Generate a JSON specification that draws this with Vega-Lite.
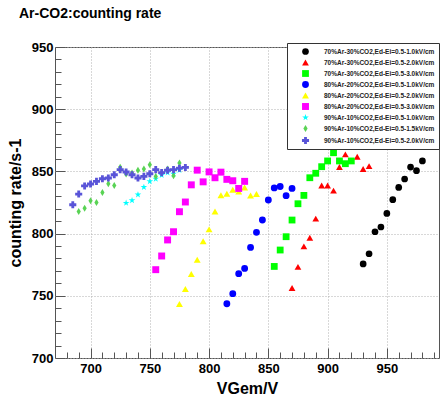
{
  "$schema": "https://vega.github.io/schema/vega-lite/v6.json",
  "width": 384,
  "height": 311,
  "autosize": {"type": "none"},
  "padding": {"left": 55, "top": 47, "right": 3, "bottom": 39},
  "background": "white",
  "title": {
    "text": "Ar-CO2:counting rate",
    "anchor": "start",
    "frame": "group",
    "dx": -36,
    "offset": 20,
    "font": "Liberation Sans",
    "fontSize": 14,
    "fontWeight": "bold",
    "color": "black"
  },
  "config": {
    "view": {"stroke": "#555555", "strokeWidth": 1},
    "axis": {
      "domain": false,
      "labelFont": "Liberation Sans",
      "labelFontWeight": "bold",
      "labelFontSize": 13,
      "labelColor": "black",
      "titleFont": "Liberation Sans",
      "titleFontWeight": "bold",
      "titleColor": "black",
      "tickColor": "#555555",
      "gridColor": "#b0b0b0",
      "gridDash": [1, 2],
      "labelOverlap": false
    }
  },
  "data": {
    "values": [
      {"s": "70%Ar-30%CO2,Ed-Ei=0.5-1.0kV/cm", "x": 930, "y": 775.6},
      {"s": "70%Ar-30%CO2,Ed-Ei=0.5-1.0kV/cm", "x": 935, "y": 783.8},
      {"s": "70%Ar-30%CO2,Ed-Ei=0.5-1.0kV/cm", "x": 940, "y": 801.5},
      {"s": "70%Ar-30%CO2,Ed-Ei=0.5-1.0kV/cm", "x": 945, "y": 805.3},
      {"s": "70%Ar-30%CO2,Ed-Ei=0.5-1.0kV/cm", "x": 950, "y": 816.2},
      {"s": "70%Ar-30%CO2,Ed-Ei=0.5-1.0kV/cm", "x": 955, "y": 827.3},
      {"s": "70%Ar-30%CO2,Ed-Ei=0.5-1.0kV/cm", "x": 960, "y": 837.1},
      {"s": "70%Ar-30%CO2,Ed-Ei=0.5-1.0kV/cm", "x": 965, "y": 843.9},
      {"s": "70%Ar-30%CO2,Ed-Ei=0.5-1.0kV/cm", "x": 970, "y": 853.5},
      {"s": "70%Ar-30%CO2,Ed-Ei=0.5-1.0kV/cm", "x": 975, "y": 850.6},
      {"s": "70%Ar-30%CO2,Ed-Ei=0.5-1.0kV/cm", "x": 980, "y": 858.4},

      {"s": "70%Ar-30%CO2,Ed-Ei=0.5-2.0kV/cm", "x": 870, "y": 756.3},
      {"s": "70%Ar-30%CO2,Ed-Ei=0.5-2.0kV/cm", "x": 875, "y": 773.2},
      {"s": "70%Ar-30%CO2,Ed-Ei=0.5-2.0kV/cm", "x": 880, "y": 789.7},
      {"s": "70%Ar-30%CO2,Ed-Ei=0.5-2.0kV/cm", "x": 885, "y": 796.7},
      {"s": "70%Ar-30%CO2,Ed-Ei=0.5-2.0kV/cm", "x": 890, "y": 812.0},
      {"s": "70%Ar-30%CO2,Ed-Ei=0.5-2.0kV/cm", "x": 895, "y": 838.7},
      {"s": "70%Ar-30%CO2,Ed-Ei=0.5-2.0kV/cm", "x": 900, "y": 838.7},
      {"s": "70%Ar-30%CO2,Ed-Ei=0.5-2.0kV/cm", "x": 905, "y": 834.5},
      {"s": "70%Ar-30%CO2,Ed-Ei=0.5-2.0kV/cm", "x": 910, "y": 853.5},
      {"s": "70%Ar-30%CO2,Ed-Ei=0.5-2.0kV/cm", "x": 915, "y": 863.7},
      {"s": "70%Ar-30%CO2,Ed-Ei=0.5-2.0kV/cm", "x": 925, "y": 861.8},
      {"s": "70%Ar-30%CO2,Ed-Ei=0.5-2.0kV/cm", "x": 930, "y": 851.9},
      {"s": "70%Ar-30%CO2,Ed-Ei=0.5-2.0kV/cm", "x": 935, "y": 854.3},

      {"s": "70%Ar-30%CO2,Ed-Ei=0.5-3.0kV/cm", "x": 855, "y": 773.6},
      {"s": "70%Ar-30%CO2,Ed-Ei=0.5-3.0kV/cm", "x": 860, "y": 786.8},
      {"s": "70%Ar-30%CO2,Ed-Ei=0.5-3.0kV/cm", "x": 865, "y": 797.5},
      {"s": "70%Ar-30%CO2,Ed-Ei=0.5-3.0kV/cm", "x": 870, "y": 810.9},
      {"s": "70%Ar-30%CO2,Ed-Ei=0.5-3.0kV/cm", "x": 875, "y": 824.0},
      {"s": "70%Ar-30%CO2,Ed-Ei=0.5-3.0kV/cm", "x": 880, "y": 830.7},
      {"s": "70%Ar-30%CO2,Ed-Ei=0.5-3.0kV/cm", "x": 885, "y": 844.9},
      {"s": "70%Ar-30%CO2,Ed-Ei=0.5-3.0kV/cm", "x": 890, "y": 848.5},
      {"s": "70%Ar-30%CO2,Ed-Ei=0.5-3.0kV/cm", "x": 895, "y": 853.8},
      {"s": "70%Ar-30%CO2,Ed-Ei=0.5-3.0kV/cm", "x": 900, "y": 858.4},
      {"s": "70%Ar-30%CO2,Ed-Ei=0.5-3.0kV/cm", "x": 905, "y": 865.0},
      {"s": "70%Ar-30%CO2,Ed-Ei=0.5-3.0kV/cm", "x": 910, "y": 858.4},
      {"s": "70%Ar-30%CO2,Ed-Ei=0.5-3.0kV/cm", "x": 915, "y": 856.2},
      {"s": "70%Ar-30%CO2,Ed-Ei=0.5-3.0kV/cm", "x": 920, "y": 858.4},

      {"s": "80%Ar-20%CO2,Ed-Ei=0.5-1.0kV/cm", "x": 815, "y": 743.6},
      {"s": "80%Ar-20%CO2,Ed-Ei=0.5-1.0kV/cm", "x": 820, "y": 751.7},
      {"s": "80%Ar-20%CO2,Ed-Ei=0.5-1.0kV/cm", "x": 825, "y": 767.8},
      {"s": "80%Ar-20%CO2,Ed-Ei=0.5-1.0kV/cm", "x": 830, "y": 772.0},
      {"s": "80%Ar-20%CO2,Ed-Ei=0.5-1.0kV/cm", "x": 835, "y": 788.9},
      {"s": "80%Ar-20%CO2,Ed-Ei=0.5-1.0kV/cm", "x": 840, "y": 801.0},
      {"s": "80%Ar-20%CO2,Ed-Ei=0.5-1.0kV/cm", "x": 845, "y": 810.9},
      {"s": "80%Ar-20%CO2,Ed-Ei=0.5-1.0kV/cm", "x": 850, "y": 827.0},
      {"s": "80%Ar-20%CO2,Ed-Ei=0.5-1.0kV/cm", "x": 855, "y": 836.7},
      {"s": "80%Ar-20%CO2,Ed-Ei=0.5-1.0kV/cm", "x": 860, "y": 837.9},
      {"s": "80%Ar-20%CO2,Ed-Ei=0.5-1.0kV/cm", "x": 865, "y": 830.5},
      {"s": "80%Ar-20%CO2,Ed-Ei=0.5-1.0kV/cm", "x": 870, "y": 836.3},

      {"s": "80%Ar-20%CO2,Ed-Ei=0.5-2.0kV/cm", "x": 775, "y": 743.4},
      {"s": "80%Ar-20%CO2,Ed-Ei=0.5-2.0kV/cm", "x": 780, "y": 755.5},
      {"s": "80%Ar-20%CO2,Ed-Ei=0.5-2.0kV/cm", "x": 785, "y": 767.5},
      {"s": "80%Ar-20%CO2,Ed-Ei=0.5-2.0kV/cm", "x": 790, "y": 779.0},
      {"s": "80%Ar-20%CO2,Ed-Ei=0.5-2.0kV/cm", "x": 795, "y": 793.9},
      {"s": "80%Ar-20%CO2,Ed-Ei=0.5-2.0kV/cm", "x": 800, "y": 803.4},
      {"s": "80%Ar-20%CO2,Ed-Ei=0.5-2.0kV/cm", "x": 805, "y": 817.8},
      {"s": "80%Ar-20%CO2,Ed-Ei=0.5-2.0kV/cm", "x": 810, "y": 830.9},
      {"s": "80%Ar-20%CO2,Ed-Ei=0.5-2.0kV/cm", "x": 815, "y": 832.0},
      {"s": "80%Ar-20%CO2,Ed-Ei=0.5-2.0kV/cm", "x": 820, "y": 835.3},
      {"s": "80%Ar-20%CO2,Ed-Ei=0.5-2.0kV/cm", "x": 825, "y": 833.9},
      {"s": "80%Ar-20%CO2,Ed-Ei=0.5-2.0kV/cm", "x": 830, "y": 837.1},
      {"s": "80%Ar-20%CO2,Ed-Ei=0.5-2.0kV/cm", "x": 835, "y": 830.7},
      {"s": "80%Ar-20%CO2,Ed-Ei=0.5-2.0kV/cm", "x": 840, "y": 831.8},

      {"s": "80%Ar-20%CO2,Ed-Ei=0.5-3.0kV/cm", "x": 755, "y": 771.0},
      {"s": "80%Ar-20%CO2,Ed-Ei=0.5-3.0kV/cm", "x": 760, "y": 782.0},
      {"s": "80%Ar-20%CO2,Ed-Ei=0.5-3.0kV/cm", "x": 765, "y": 794.9},
      {"s": "80%Ar-20%CO2,Ed-Ei=0.5-3.0kV/cm", "x": 770, "y": 801.5},
      {"s": "80%Ar-20%CO2,Ed-Ei=0.5-3.0kV/cm", "x": 775, "y": 817.6},
      {"s": "80%Ar-20%CO2,Ed-Ei=0.5-3.0kV/cm", "x": 780, "y": 825.4},
      {"s": "80%Ar-20%CO2,Ed-Ei=0.5-3.0kV/cm", "x": 785, "y": 839.2},
      {"s": "80%Ar-20%CO2,Ed-Ei=0.5-3.0kV/cm", "x": 790, "y": 851.0},
      {"s": "80%Ar-20%CO2,Ed-Ei=0.5-3.0kV/cm", "x": 795, "y": 841.6},
      {"s": "80%Ar-20%CO2,Ed-Ei=0.5-3.0kV/cm", "x": 800, "y": 849.6},
      {"s": "80%Ar-20%CO2,Ed-Ei=0.5-3.0kV/cm", "x": 805, "y": 844.9},
      {"s": "80%Ar-20%CO2,Ed-Ei=0.5-3.0kV/cm", "x": 810, "y": 849.4},
      {"s": "80%Ar-20%CO2,Ed-Ei=0.5-3.0kV/cm", "x": 815, "y": 843.6},
      {"s": "80%Ar-20%CO2,Ed-Ei=0.5-3.0kV/cm", "x": 820, "y": 842.5},
      {"s": "80%Ar-20%CO2,Ed-Ei=0.5-3.0kV/cm", "x": 825, "y": 836.3},
      {"s": "80%Ar-20%CO2,Ed-Ei=0.5-3.0kV/cm", "x": 830, "y": 842.0},

      {"s": "90%Ar-10%CO2,Ed-Ei=0.5-1.0kV/cm", "x": 730, "y": 824.6},
      {"s": "90%Ar-10%CO2,Ed-Ei=0.5-1.0kV/cm", "x": 735, "y": 826.7},
      {"s": "90%Ar-10%CO2,Ed-Ei=0.5-1.0kV/cm", "x": 740, "y": 831.3},
      {"s": "90%Ar-10%CO2,Ed-Ei=0.5-1.0kV/cm", "x": 745, "y": 837.3},
      {"s": "90%Ar-10%CO2,Ed-Ei=0.5-1.0kV/cm", "x": 750, "y": 842.0},
      {"s": "90%Ar-10%CO2,Ed-Ei=0.5-1.0kV/cm", "x": 755, "y": 844.0},
      {"s": "90%Ar-10%CO2,Ed-Ei=0.5-1.0kV/cm", "x": 760, "y": 847.0},
      {"s": "90%Ar-10%CO2,Ed-Ei=0.5-1.0kV/cm", "x": 765, "y": 849.0},
      {"s": "90%Ar-10%CO2,Ed-Ei=0.5-1.0kV/cm", "x": 770, "y": 848.0},
      {"s": "90%Ar-10%CO2,Ed-Ei=0.5-1.0kV/cm", "x": 775, "y": 851.0},

      {"s": "90%Ar-10%CO2,Ed-Ei=0.5-1.5kV/cm", "x": 690, "y": 817.8},
      {"s": "90%Ar-10%CO2,Ed-Ei=0.5-1.5kV/cm", "x": 695, "y": 820.3},
      {"s": "90%Ar-10%CO2,Ed-Ei=0.5-1.5kV/cm", "x": 700, "y": 826.4},
      {"s": "90%Ar-10%CO2,Ed-Ei=0.5-1.5kV/cm", "x": 705, "y": 825.0},
      {"s": "90%Ar-10%CO2,Ed-Ei=0.5-1.5kV/cm", "x": 710, "y": 833.0},
      {"s": "90%Ar-10%CO2,Ed-Ei=0.5-1.5kV/cm", "x": 715, "y": 840.0},
      {"s": "90%Ar-10%CO2,Ed-Ei=0.5-1.5kV/cm", "x": 720, "y": 838.6},
      {"s": "90%Ar-10%CO2,Ed-Ei=0.5-1.5kV/cm", "x": 725, "y": 853.4},
      {"s": "90%Ar-10%CO2,Ed-Ei=0.5-1.5kV/cm", "x": 730, "y": 848.0},
      {"s": "90%Ar-10%CO2,Ed-Ei=0.5-1.5kV/cm", "x": 735, "y": 848.7},
      {"s": "90%Ar-10%CO2,Ed-Ei=0.5-1.5kV/cm", "x": 740, "y": 851.0},
      {"s": "90%Ar-10%CO2,Ed-Ei=0.5-1.5kV/cm", "x": 745, "y": 852.0},
      {"s": "90%Ar-10%CO2,Ed-Ei=0.5-1.5kV/cm", "x": 750, "y": 855.4},
      {"s": "90%Ar-10%CO2,Ed-Ei=0.5-1.5kV/cm", "x": 755, "y": 846.0},
      {"s": "90%Ar-10%CO2,Ed-Ei=0.5-1.5kV/cm", "x": 760, "y": 849.0},
      {"s": "90%Ar-10%CO2,Ed-Ei=0.5-1.5kV/cm", "x": 765, "y": 852.0},
      {"s": "90%Ar-10%CO2,Ed-Ei=0.5-1.5kV/cm", "x": 770, "y": 846.5},
      {"s": "90%Ar-10%CO2,Ed-Ei=0.5-1.5kV/cm", "x": 775, "y": 856.8},

      {"s": "90%Ar-10%CO2,Ed-Ei=0.5-2.0kV/cm", "x": 685, "y": 823.2},
      {"s": "90%Ar-10%CO2,Ed-Ei=0.5-2.0kV/cm", "x": 690, "y": 831.8},
      {"s": "90%Ar-10%CO2,Ed-Ei=0.5-2.0kV/cm", "x": 695, "y": 838.3},
      {"s": "90%Ar-10%CO2,Ed-Ei=0.5-2.0kV/cm", "x": 700, "y": 839.9},
      {"s": "90%Ar-10%CO2,Ed-Ei=0.5-2.0kV/cm", "x": 705, "y": 842.0},
      {"s": "90%Ar-10%CO2,Ed-Ei=0.5-2.0kV/cm", "x": 710, "y": 844.1},
      {"s": "90%Ar-10%CO2,Ed-Ei=0.5-2.0kV/cm", "x": 715, "y": 844.7},
      {"s": "90%Ar-10%CO2,Ed-Ei=0.5-2.0kV/cm", "x": 720, "y": 847.3},
      {"s": "90%Ar-10%CO2,Ed-Ei=0.5-2.0kV/cm", "x": 725, "y": 851.4},
      {"s": "90%Ar-10%CO2,Ed-Ei=0.5-2.0kV/cm", "x": 730, "y": 849.5},
      {"s": "90%Ar-10%CO2,Ed-Ei=0.5-2.0kV/cm", "x": 735, "y": 847.3},
      {"s": "90%Ar-10%CO2,Ed-Ei=0.5-2.0kV/cm", "x": 740, "y": 844.7},
      {"s": "90%Ar-10%CO2,Ed-Ei=0.5-2.0kV/cm", "x": 745, "y": 846.0},
      {"s": "90%Ar-10%CO2,Ed-Ei=0.5-2.0kV/cm", "x": 750, "y": 848.1},
      {"s": "90%Ar-10%CO2,Ed-Ei=0.5-2.0kV/cm", "x": 755, "y": 851.4},
      {"s": "90%Ar-10%CO2,Ed-Ei=0.5-2.0kV/cm", "x": 760, "y": 849.0},
      {"s": "90%Ar-10%CO2,Ed-Ei=0.5-2.0kV/cm", "x": 765, "y": 850.9},
      {"s": "90%Ar-10%CO2,Ed-Ei=0.5-2.0kV/cm", "x": 770, "y": 851.4},
      {"s": "90%Ar-10%CO2,Ed-Ei=0.5-2.0kV/cm", "x": 775, "y": 852.6},
      {"s": "90%Ar-10%CO2,Ed-Ei=0.5-2.0kV/cm", "x": 780, "y": 853.2}
    ]
  },
  "mark": {"type": "point", "filled": true, "opacity": 1},
  "encoding": {
    "x": {
      "field": "x",
      "type": "quantitative",
      "scale": {"domain": [670, 994], "nice": false, "zero": false},
      "axis": {
        "title": "VGem/V",
        "titleFontSize": 16,
        "titlePadding": 1,
        "values": [680, 690, 700, 710, 720, 730, 740, 750, 760, 770, 780, 790, 800, 810, 820, 830, 840, 850, 860, 870, 880, 890, 900, 910, 920, 930, 940, 950, 960, 970, 980, 990],
        "labelExpr": "datum.value % 50 === 0 ? datum.label : ''",
        "tickSize": {"condition": {"test": "datum.value % 50 === 0", "value": -10}, "value": -6},
        "labelPadding": 14,
        "gridOpacity": {"condition": {"test": "datum.value % 50 === 0", "value": 1}, "value": 0}
      }
    },
    "y": {
      "field": "y",
      "type": "quantitative",
      "scale": {"domain": [700, 950], "nice": false, "zero": false},
      "axis": {
        "title": "counting rate/s-1",
        "titleFontSize": 16,
        "titlePadding": 8,
        "values": [700, 710, 720, 730, 740, 750, 760, 770, 780, 790, 800, 810, 820, 830, 840, 850, 860, 870, 880, 890, 900, 910, 920, 930, 940, 950],
        "labelExpr": "datum.value % 50 === 0 ? datum.label : ''",
        "tickSize": {"condition": {"test": "datum.value % 50 === 0", "value": -10}, "value": -6},
        "labelPadding": 12,
        "gridOpacity": {"condition": {"test": "datum.value % 50 === 0", "value": 1}, "value": 0}
      }
    },
    "color": {
      "field": "s",
      "type": "nominal",
      "sort": null,
      "scale": {
        "domain": ["70%Ar-30%CO2,Ed-Ei=0.5-1.0kV/cm", "70%Ar-30%CO2,Ed-Ei=0.5-2.0kV/cm", "70%Ar-30%CO2,Ed-Ei=0.5-3.0kV/cm", "80%Ar-20%CO2,Ed-Ei=0.5-1.0kV/cm", "80%Ar-20%CO2,Ed-Ei=0.5-2.0kV/cm", "80%Ar-20%CO2,Ed-Ei=0.5-3.0kV/cm", "90%Ar-10%CO2,Ed-Ei=0.5-1.0kV/cm", "90%Ar-10%CO2,Ed-Ei=0.5-1.5kV/cm", "90%Ar-10%CO2,Ed-Ei=0.5-2.0kV/cm"],
        "range": ["#000000", "#ff0000", "#00ff00", "#0000ff", "#ffff00", "#ff00ff", "#00ffff", "#59d354", "#5954d8"]
      },
      "legend": {
        "title": null,
        "orient": "none",
        "legendX": 232,
        "legendY": -4,
        "fillColor": "white",
        "strokeColor": "#333333",
        "padding": 4,
        "labelFont": "Liberation Sans",
        "labelFontWeight": "bold",
        "labelFontSize": 6.5,
        "labelColor": "#222222",
        "symbolSize": 45,
        "symbolOffset": 10,
        "labelOffset": 14,
        "rowPadding": 3,
        "labelLimit": 300
      }
    },
    "shape": {
      "field": "s",
      "type": "nominal",
      "sort": null,
      "scale": {
        "domain": ["70%Ar-30%CO2,Ed-Ei=0.5-1.0kV/cm", "70%Ar-30%CO2,Ed-Ei=0.5-2.0kV/cm", "70%Ar-30%CO2,Ed-Ei=0.5-3.0kV/cm", "80%Ar-20%CO2,Ed-Ei=0.5-1.0kV/cm", "80%Ar-20%CO2,Ed-Ei=0.5-2.0kV/cm", "80%Ar-20%CO2,Ed-Ei=0.5-3.0kV/cm", "90%Ar-10%CO2,Ed-Ei=0.5-1.0kV/cm", "90%Ar-10%CO2,Ed-Ei=0.5-1.5kV/cm", "90%Ar-10%CO2,Ed-Ei=0.5-2.0kV/cm"],
        "range": ["circle", "triangle-up", "square", "circle", "triangle-up", "square", "M0,-1L0.2245,-0.309L0.951,-0.309L0.363,0.118L0.588,0.809L0,0.382L-0.588,0.809L-0.363,0.118L-0.951,-0.309L-0.2245,-0.309Z", "M0,-1L0.6,0L0,1L-0.6,0Z", "cross"]
      }
    },
    "size": {
      "field": "s",
      "type": "nominal",
      "sort": null,
      "legend": null,
      "scale": {
        "domain": ["70%Ar-30%CO2,Ed-Ei=0.5-1.0kV/cm", "70%Ar-30%CO2,Ed-Ei=0.5-2.0kV/cm", "70%Ar-30%CO2,Ed-Ei=0.5-3.0kV/cm", "80%Ar-20%CO2,Ed-Ei=0.5-1.0kV/cm", "80%Ar-20%CO2,Ed-Ei=0.5-2.0kV/cm", "80%Ar-20%CO2,Ed-Ei=0.5-3.0kV/cm", "90%Ar-10%CO2,Ed-Ei=0.5-1.0kV/cm", "90%Ar-10%CO2,Ed-Ei=0.5-1.5kV/cm", "90%Ar-10%CO2,Ed-Ei=0.5-2.0kV/cm"],
        "range": [45, 50, 45, 45, 50, 45, 80, 70, 70]
      }
    }
  }
}
